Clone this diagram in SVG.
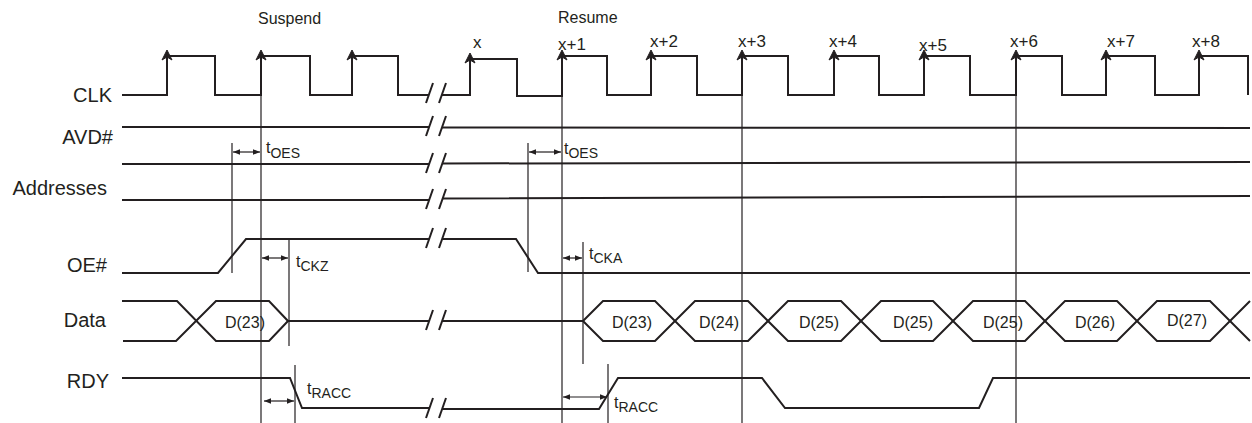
<svg xmlns="http://www.w3.org/2000/svg" width="1252" height="423" viewBox="0 0 1252 423">
<style>
.sig{fill:none;stroke:#231f20;stroke-width:2;stroke-linejoin:miter}
.ref{fill:none;stroke:#231f20;stroke-width:1.2}
.dim{fill:none;stroke:#231f20;stroke-width:1.2;marker-start:url(#ah);marker-end:url(#ah)}
.brk{fill:none;stroke:#231f20;stroke-width:2}
.lbl{font-family:"Liberation Sans",Arial,sans-serif;font-size:20px;fill:#231f20;text-anchor:end}
.top{font-family:"Liberation Sans",Arial,sans-serif;font-size:16px;fill:#231f20}
.cyc{font-family:"Liberation Sans",Arial,sans-serif;font-size:17px;fill:#231f20}
.tm{font-family:"Liberation Sans",Arial,sans-serif;font-size:16px;fill:#231f20}
.sub{font-size:14px}
.dv{font-family:"Liberation Sans",Arial,sans-serif;font-size:16px;fill:#231f20;text-anchor:middle}
</style>
<defs>
<marker id="ah" viewBox="0 0 10 8" refX="10" refY="4" markerWidth="7" markerHeight="6" markerUnits="userSpaceOnUse" orient="auto-start-reverse">
<path d="M0,0 L10,4 L0,8 Z" fill="#231f20"/>
</marker>
<path id="clkarrow" d="M0,-1 L-5,9 L0,6 L5,9 Z" fill="#231f20" stroke="#231f20" stroke-width="1" stroke-linejoin="round"/>
<g id="brk" class="brk">
<line x1="-4" y1="10" x2="3" y2="-10"/>
<line x1="9" y1="10" x2="16" y2="-10"/>
</g>
</defs>
<rect width="1252" height="423" fill="#fff"/>

<g id="labels">
<text class="top" x="258" y="24">Suspend</text>
<text class="top" x="558" y="23">Resume</text>
<text class="cyc" x="473" y="48">x</text>
<text class="cyc" x="558" y="50">x+1</text>
<text class="cyc" x="650" y="47">x+2</text>
<text class="cyc" x="738" y="47">x+3</text>
<text class="cyc" x="829" y="47">x+4</text>
<text class="cyc" x="919" y="51">x+5</text>
<text class="cyc" x="1010" y="47">x+6</text>
<text class="cyc" x="1107" y="47">x+7</text>
<text class="cyc" x="1192" y="47">x+8</text>
</g>

<g id="clk">
<text class="lbl" x="112" y="102">CLK</text>
<path class="sig" d="M122,95 H167 V56 H215 V95 H261 V56 H310 V95 H352 V56 H398 V95 H429"/>
<path class="sig" d="M442,95 H470 V59 H517 V96 H562 V56 H607 V95 H651 V56 H697 V95 H742 V56 H788 V95 H834 V56 H879 V95 H924 V56 H970 V95 H1016 V56 H1062 V95 H1106 V56 H1155 V95 H1199 V56 H1248 V95"/>
<use href="#clkarrow" x="167" y="51"/>
<use href="#clkarrow" x="261" y="51"/>
<use href="#clkarrow" x="352" y="51"/>
<use href="#clkarrow" x="470" y="54"/>
<use href="#clkarrow" x="562" y="51"/>
<use href="#clkarrow" x="651" y="51"/>
<use href="#clkarrow" x="742" y="51"/>
<use href="#clkarrow" x="834" y="51"/>
<use href="#clkarrow" x="924" y="51"/>
<use href="#clkarrow" x="1016" y="51"/>
<use href="#clkarrow" x="1106" y="51"/>
<use href="#clkarrow" x="1199" y="51"/>
<use href="#brk" x="430" y="93"/>
</g>

<g id="avd">
<text class="lbl" x="113" y="144">AVD#</text>
<path class="sig" d="M122,127 H429 M442,127.5 L1250,128"/>
<use href="#brk" x="430" y="126"/>
</g>

<g id="avd2">
<path class="sig" d="M122,164 H429 M442,163.5 L1250,162"/>
<use href="#brk" x="430" y="163"/>
</g>

<g id="addresses">
<text class="lbl" x="107" y="195">Addresses</text>
<path class="sig" d="M122,200 H429 M442,198.5 L1250,196"/>
<use href="#brk" x="430" y="199"/>
</g>

<g id="oe">
<text class="lbl" x="107" y="272">OE#</text>
<path class="sig" d="M122,273 H218 L246,239 H429 M442,239 H516 L538,273 H1250"/>
<use href="#brk" x="430" y="238"/>
</g>

<g id="data">
<text class="lbl" x="106" y="327">Data</text>
<path class="sig" d="M122,301 H177 L216,341 H269 L288,321"/>
<path class="sig" d="M123,341 H176 L216,301 H269 L288,321"/>
<path class="sig" d="M288,321 H429 M442,321 H583"/>
<path class="sig" d="M583,321 L603,301 H655 L695,341 H748 L788,301 H841 L881,341 H933 L973,301 H1025 L1065,341 H1117 L1157,301 H1210 L1250,341"/>
<path class="sig" d="M583,321 L603,341 H655 L695,301 H748 L788,341 H841 L881,301 H933 L973,341 H1025 L1065,301 H1117 L1157,341 H1210 L1250,301"/>
<use href="#brk" x="430" y="320"/>
<text class="dv" x="245" y="328">D(23)</text>
<text class="dv" x="632" y="328">D(23)</text>
<text class="dv" x="719" y="328">D(24)</text>
<text class="dv" x="819" y="328">D(25)</text>
<text class="dv" x="913" y="328">D(25)</text>
<text class="dv" x="1003" y="328">D(25)</text>
<text class="dv" x="1095" y="328">D(26)</text>
<text class="dv" x="1187" y="326">D(27)</text>
</g>

<g id="rdy">
<text class="lbl" x="109" y="388">RDY</text>
<path class="sig" d="M122,378 H290 L302,408 H429 M442,409 H599 L618,378 H762 L785,408 H979 L993,378 H1250"/>
<use href="#brk" x="430" y="408"/>
</g>

<g id="connectors">
<line class="ref" x1="232" y1="143" x2="232" y2="273"/>
<line class="ref" x1="261" y1="56" x2="261" y2="423"/>
<line class="ref" x1="289" y1="240" x2="289" y2="346"/>
<line class="ref" x1="295" y1="365" x2="295" y2="423"/>
<line class="ref" x1="528" y1="143" x2="528" y2="272"/>
<line class="ref" x1="562" y1="56" x2="562" y2="423"/>
<line class="ref" x1="583" y1="242" x2="583" y2="364"/>
<line class="ref" x1="608" y1="364" x2="608" y2="423"/>
<line class="ref" x1="742" y1="56" x2="742" y2="423"/>
<line class="ref" x1="1016" y1="56" x2="1016" y2="423"/>
<line class="dim" x1="233" y1="152" x2="260" y2="152"/>
<line class="dim" x1="529" y1="152" x2="561" y2="152"/>
<line class="dim" x1="262" y1="258" x2="288" y2="258"/>
<line class="dim" x1="563" y1="258" x2="582" y2="258"/>
<line class="dim" x1="264" y1="401" x2="294" y2="401"/>
<line class="dim" x1="563" y1="397" x2="607" y2="397"/>
</g>

<g id="timing-labels">
<text class="tm" x="266" y="153">t<tspan class="sub" dy="4.5">OES</tspan></text>
<text class="tm" x="564" y="154">t<tspan class="sub" dy="4">OES</tspan></text>
<text class="tm" x="296" y="267">t<tspan class="sub" dy="3.5">CKZ</tspan></text>
<text class="tm" x="589" y="259">t<tspan class="sub" dy="4">CKA</tspan></text>
<text class="tm" x="307" y="394">t<tspan class="sub" dy="3.5">RACC</tspan></text>
<text class="tm" x="614" y="408">t<tspan class="sub" dy="4">RACC</tspan></text>
</g>
</svg>
